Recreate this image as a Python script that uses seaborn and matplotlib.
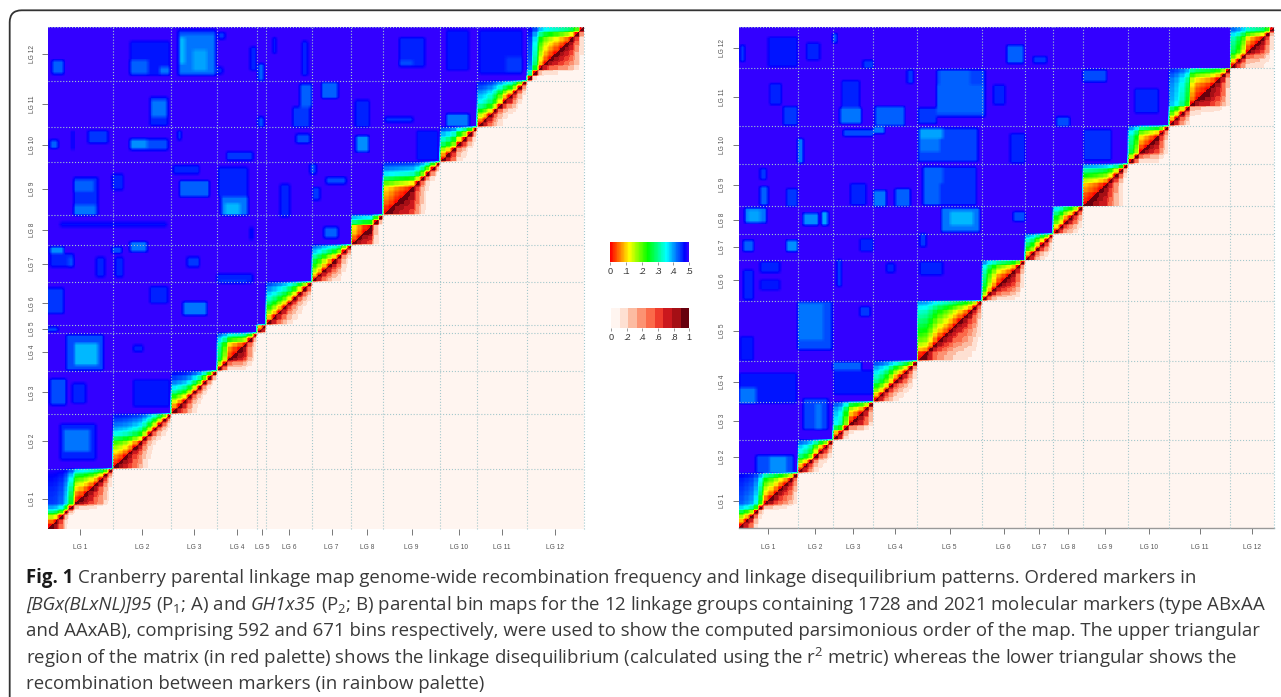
import numpy as np
import seaborn as sns
import matplotlib.pyplot as plt
plt.switch_backend('Agg')
from matplotlib.colors import LinearSegmentedColormap, ListedColormap
from matplotlib.patches import FancyBboxPatch
from matplotlib.transforms import IdentityTransform

sns.set_style("white")
plt.rcParams['font.family'] = ['Liberation Sans', 'DejaVu Sans']
plt.rcParams['mathtext.fontset'] = 'custom'
plt.rcParams['mathtext.rm'] = 'Open Sans'
plt.rcParams['mathtext.it'] = 'Open Sans:italic'
plt.rcParams['mathtext.bf'] = 'Open Sans:bold'
plt.rcParams['mathtext.default'] = 'regular'

W, H = 1281, 697

LG_NAMES = [f"LG {i}" for i in range(1, 13)]

# bins per linkage group
BINS_A = [71, 65, 50, 45, 10, 50, 44, 35, 63, 41, 55, 63]
BINS_B = [74, 44, 51, 55, 81, 54, 35, 37, 57, 51, 77, 55]

# map position (Morgans) along each linkage group
MAP_A = [
    [0, .05, .18, .46, .8, 1.15, 1.18, 1.22, 1.27, 1.33, 1.42, 1.55, 1.82],
    [0, .03, .07, .13, .2, .28, .42, .6, .78, .95, 1.12, 1.35],
    [0, .08, .16, .3, .48, .65, .9, 1.15, 1.45],
    [0, .2, .38, .42, .45, .5, .68, .98],
    [0, .1],
    [0, .1, .2, .3, .42, .55, .7, .85, 1.05],
    [0, .1, .2, .3, .38, .5, .72, .95],
    [0, .05, .1, .12, .45, .75],
    [0, .02, .05, .07, .09, .12, .25, .42, .65, .9, 1.2],
    [0, .08, .2, .42, .55, .75, 1.05],
    [0, .07, .17, .32, .48, .62, .72, .85, 1.05, 1.3],
    [0, .5, .85, .95, 1.0, 1.04, 1.08, 1.12, 1.18, 1.32, 1.58],
]
MAP_B = [
    [0, .1, .2, .4, .7, 1.0, 1.06, 1.12, 1.18, 1.24, 1.32, 1.5],
    [0, .1, .22, .45, .6, .72, .95],
    [0, .1, .4, .62, .66, .72, .82, 1.0],
    [0, .1, .22, .34, .46, .55, .65, .8, 1.05],
    [0, .02, .1, .18, .24, .29, .34, .39, .44, .49, .55, .64, .82],
    [0, .2, .3, .38, .42, .46, .52, .62, .85],
    [0, .1, .3, .42, .55, .8],
    [0, .12, .25, .33, .45, .65],
    [0, .02, .04, .07, .1, .18, .32, .48, .8],
    [0, .18, .38, .42, .46, .5, .62, .85],
    [0, .1, .25, .42, .72, .78, .8, .82, .85, .9, 1.0, 1.2],
    [0, .12, .25, .4, .44, .48, .52, .66, .95],
]

# regions between groups where recombination drops: col from, col to, row from, row to, rf
LOW_RF_A = [
    (143, 185, 535, 589, .45), (145, 184, 537, 584, .42), (145, 151, 549, 580, .39), (160, 175, 541, 565, .40),
    (90, 134, 535, 576, .465), (90, 110, 537, 553, .43), (123, 134, 537, 545, .42), (4, 17, 537, 553, .43),
    (223, 230, 541, 569, .46), (232, 238, 529, 549, .43), (188, 195, 578, 586, .45), (186, 193, 537, 545, .46),
    (112, 132, 476, 510, .46), (114, 131, 486, 506, .42), (278, 291, 498, 525, .43), (270, 289, 474, 498, .45),
    (302, 320, 508, 527, .43), (44, 66, 455, 470, .45), (2, 11, 449, 459, .43), (90, 132, 447, 460, .44),
    (90, 109, 449, 460, .41), (145, 178, 392, 411, .43), (138, 167, 419, 429, .46), (188, 221, 392, 427, .46),
    (191, 221, 370, 392, .42), (195, 212, 370, 384, .39), (28, 55, 370, 415, .455), (28, 53, 370, 382, .42),
    (28, 50, 398, 411, .43), (2, 17, 325, 333, .41), (90, 109, 327, 339, .42), (70, 81, 325, 333, .44),
    (305, 320, 343, 356, .43), (153, 167, 309, 321, .45), (2, 28, 309, 325, .46), (289, 296, 419, 431, .44),
    (292, 300, 388, 403, .45), (311, 322, 407, 415, .44), (197, 226, 435, 445, .45), (186, 226, 290, 301, .46),
    (13, 131, 356, 362, .47), (340, 354, 445, 464, .41), (388, 416, 545, 580, .46), (388, 403, 547, 553, .44),
    (440, 465, 475, 490, .42), (307, 329, 407, 415, .44), (339, 355, 474, 506, .46), (372, 403, 480, 486, .45),
    (476, 524, 537, 589, .465), (506, 524, 539, 557, .45), (440, 465, 541, 589, .465), (407, 431, 435, 470, .465),
    (0, 17, 254, 284, .45), (149, 175, 252, 268, .42), (112, 132, 266, 286, .46), (0, 11, 233, 238, .44),
    (20, 61, 187, 229, .44), (29, 55, 193, 219, .39), (2, 20, 146, 177, .44), (26, 42, 148, 172, .46),
    (94, 134, 144, 176, .465), (13, 53, 81, 124, .46), (17, 46, 91, 117, .42), (94, 105, 209, 217, .46),
    (248, 252, 561, 580, .455), (280, 287, 535, 576, .46), (232, 238, 474, 486, .44), (274, 289, 455, 466, .44),
    (143, 147, 459, 470, .44), (26, 28, 447, 470, .455), (70, 83, 400, 419, .46), (256, 267, 368, 407, .46),
    (223, 226, 341, 356, .46), (190, 219, 290, 293, .44), (22, 28, 309, 321, .44), (53, 63, 297, 321, .46),
    (74, 83, 297, 321, .46),
]
LOW_RF_B = [
    (8, 35, 409, 429, .42), (12, 27, 409, 426, .40), (81, 100, 406, 422, .41), (104, 112, 406, 424, .40),
    (254, 302, 397, 429, .42), (265, 294, 406, 424, .39), (231, 298, 433, 484, .455), (231, 252, 433, 467, .43),
    (231, 256, 462, 484, .43), (225, 300, 491, 536, .445), (227, 256, 522, 536, .40), (227, 252, 504, 522, .42),
    (248, 309, 551, 614, .445), (252, 290, 583, 614, .43), (248, 307, 556, 594, .43), (225, 248, 542, 563, .45),
    (127, 154, 542, 563, .42), (129, 152, 563, 600, .46), (171, 208, 539, 565, .43), (131, 169, 525, 534, .44),
    (169, 183, 529, 538, .42), (169, 185, 431, 453, .42), (196, 215, 431, 455, .43), (140, 160, 433, 462, .46),
    (37, 74, 618, 658, .465), (2, 8, 625, 647, .45), (85, 102, 627, 650, .46), (118, 123, 650, 663, .43),
    (74, 81, 489, 522, .42), (27, 37, 433, 458, .43), (60, 74, 431, 455, .45), (6, 19, 371, 386, .43),
    (60, 74, 371, 386, .41), (152, 169, 371, 388, .46), (227, 256, 339, 357, .46), (27, 52, 342, 357, .46),
    (319, 334, 567, 594, .46), (336, 357, 623, 647, .43), (74, 117, 239, 304, .44), (75, 106, 252, 301, .42),
    (118, 154, 212, 223, .43), (119, 169, 179, 212, .465), (1, 73, 167, 208, .465), (1, 22, 167, 188, .42),
    (81, 112, 132, 174, .445), (96, 104, 132, 167, .42), (22, 69, 74, 98, .44), (39, 60, 74, 96, .41),
    (2, 19, 225, 257, .465), (431, 461, 598, 614, .44), (496, 526, 556, 589, .46), (432, 467, 493, 534, .455),
    (398, 415, 538, 551, .44), (340, 359, 489, 529, .46), (344, 359, 411, 424, .44), (369, 386, 623, 632, .45),
    (211, 219, 596, 614, .45), (27, 35, 467, 482, .45), (56, 74, 540, 565, .45), (39, 54, 567, 596, .46),
    (156, 169, 616, 627, .45), (123, 129, 324, 360, .45), (227, 235, 377, 395, .45), (185, 196, 342, 355, .46),
    (6, 19, 306, 346, .46), (27, 52, 319, 333, .465), (152, 165, 284, 297, .45),
]

RF_TICKS = [0, .1, .2, .3, .4, .5]
RF_LABELS = ["0", ".1", ".2", ".3", ".4", ".5"]
LD_TICKS = [0, .2, .4, .6, .8, 1]
LD_LABELS = ["0", ".2", ".4", ".6", ".8", "1"]

# caption runs per line: text, style
CAPTION = [
    [("Fig. 1", "bold"), ("Cranberry parental linkage map genome-wide recombination frequency and linkage disequilibrium patterns. Ordered markers in", "normal")],
    [("[BGx(BLxNL)]95", "italic"), (r"(P$_1$; A) and", "normal"), ("GH1x35", "italic"),
     (r"(P$_2$; B) parental bin maps for the 12 linkage groups containing 1728 and 2021 molecular markers (type ABxAA", "normal")],
    [("and AAxAB), comprising 592 and 671 bins respectively, were used to show the computed parsimonious order of the map. The upper triangular", "normal")],
    [(r"region of the matrix (in red palette) shows the linkage disequilibrium (calculated using the r$^2$ metric) whereas the lower triangular shows the", "normal")],
    [("recombination between markers (in rainbow palette)", "normal")],
]

rainbow = LinearSegmentedColormap.from_list("rb", [(0, "#ff0000"), (.238, "#ffff00"), (.476, "#00ff00"),
                                                    (.714, "#00ffff"), (.952, "#0000ff"), (1, "#3300ff")])
reds = ListedColormap(["#fff5f0", "#fee0d2", "#fcbba1", "#fc9272", "#fb6a4a",
                       "#ef3b2c", "#cb181d", "#a50f15", "#67000d"])


def px_axes(fig, left, top, right, bottom):
    return fig.add_axes([left / W, 1 - bottom / H, (right - left) / W, (bottom - top) / H])


def smooth(m, size):
    # the source figure is a soft bitmap, so soften the cells a little
    kernel = np.ones(size) / size
    m = np.pad(m, size // 2, mode="edge")
    m = np.apply_along_axis(np.convolve, 0, m, kernel, mode="valid")
    m = np.apply_along_axis(np.convolve, 1, m, kernel, mode="valid")
    return m


def build_matrices(bins, maps, low_rf):
    pos = np.concatenate([np.array(m)[np.arange(n) * len(m) // n] for n, m in zip(bins, maps)])
    group = np.repeat(np.arange(len(bins)), bins)
    same = group[:, None] == group[None, :]
    rf = 0.5 * (1 - np.exp(-2 * np.abs(pos[:, None] - pos[None, :])))
    rf[~same] = 0.5
    low = np.full_like(rf, 0.5)
    for c0, c1, r0, r1, val in low_rf:
        low[r0:r1, c0:c1] = np.minimum(low[r0:r1, c0:c1], val)
    low[same] = 0.5
    rf = smooth(rf, 3)
    ld = (1 - 2 * rf) ** 2
    rf = np.minimum(rf, smooth(low, 5))
    return rf, ld


def draw_panel(fig, box, bins, maps, low_rf, base_line=False):
    ax = px_axes(fig, *box)
    rf, ld = build_matrices(bins, maps, low_rf)
    n = rf.shape[0]
    upper = np.tril(np.ones((n, n), dtype=bool), -1)  # row above col, drawn upwards
    sns.heatmap(rf, mask=~upper, cmap=rainbow, vmin=0, vmax=.5, cbar=False, ax=ax,
                xticklabels=False, yticklabels=False)
    sns.heatmap(ld, mask=upper, cmap=reds, vmin=0, vmax=1, cbar=False, ax=ax,
                xticklabels=False, yticklabels=False)
    ax.set_xlim(0, n)
    ax.set_ylim(0, n)

    edges = np.cumsum(bins)
    centers = edges - np.array(bins) / 2
    for e in edges:
        ax.axvline(e, color="#a4c8cc", ls=":", lw=.8, zorder=5, clip_on=False)
        ax.axhline(e, color="#a4c8cc", ls=":", lw=.8, zorder=5, clip_on=False)

    ax.set_xticks(centers)
    ax.set_yticks(centers)
    ax.set_xticklabels(LG_NAMES, fontsize=4.8, color="#555555")
    ax.set_yticklabels(LG_NAMES, fontsize=4.8, color="#555555", rotation=90, va="center")
    ax.tick_params(axis="both", length=4.2, width=.7, color="#777777", bottom=True, left=True)
    ax.tick_params(axis="x", pad=7)
    ax.tick_params(axis="y", pad=5)
    for name, spine in ax.spines.items():
        spine.set_visible(base_line and name == "bottom")
        spine.set_color("#999999")
        spine.set_linewidth(1.0)
    return ax


def draw_scale(fig, box, ramp, cmap, vmax, ticks, labels, cells):
    ax = px_axes(fig, *box)
    sns.heatmap(np.array([ramp]), cmap=cmap, vmin=0, vmax=vmax, cbar=False, ax=ax,
                xticklabels=False, yticklabels=False)
    ax.set_xticks(np.array(ticks) / vmax * cells)
    ax.set_xticklabels(labels, fontsize=6.6, color="#333333")
    ax.tick_params(axis="x", length=1.8, width=.6, color="#888888", pad=1.8, bottom=True)
    ax.tick_params(axis="y", left=False)
    return ax


def draw_caption(fig):
    renderer = fig.canvas.get_renderer()
    for i, runs in enumerate(CAPTION):
        x = 25.7
        for text, style in runs:
            t = fig.text(x / W, 1 - (578 + i * 26.5) / H, text, family="Open Sans", fontsize=13.4,
                         color="#1a1a1a" if style == "bold" else "#3a3a3a", va="center", ha="left",
                         fontweight="bold" if style == "bold" else "normal",
                         fontstyle="italic" if style == "italic" else "normal")
            x += t.get_window_extent(renderer).width + 4.8


fig = plt.figure(figsize=(W / 100, H / 100), dpi=100, facecolor="white")

draw_panel(fig, (48.3, 27.3, 584, 528.7), BINS_A, MAP_A, LOW_RF_A)
draw_panel(fig, (738.5, 27.3, 1274.3, 528.3), BINS_B, MAP_B, LOW_RF_B, base_line=True)

draw_scale(fig, (610.3, 241.7, 689, 262.3), np.linspace(0, .5, 100), rainbow, .5, RF_TICKS, RF_LABELS, 100)
draw_scale(fig, (611, 308.3, 689.3, 328.3), (np.arange(9) + .5) / 9, reds, 1, LD_TICKS, LD_LABELS, 9)

# frame round the figure, runs off the right and bottom edges
frame = FancyBboxPatch((9.7, -40), 1400, H - 10.3 + 40, boxstyle="round,pad=0,rounding_size=12",
                       fill=False, ec="#333333", lw=1.3, transform=IdentityTransform())
fig.add_artist(frame)

draw_caption(fig)

plt.savefig("out.png", dpi=100)
plt.close()
